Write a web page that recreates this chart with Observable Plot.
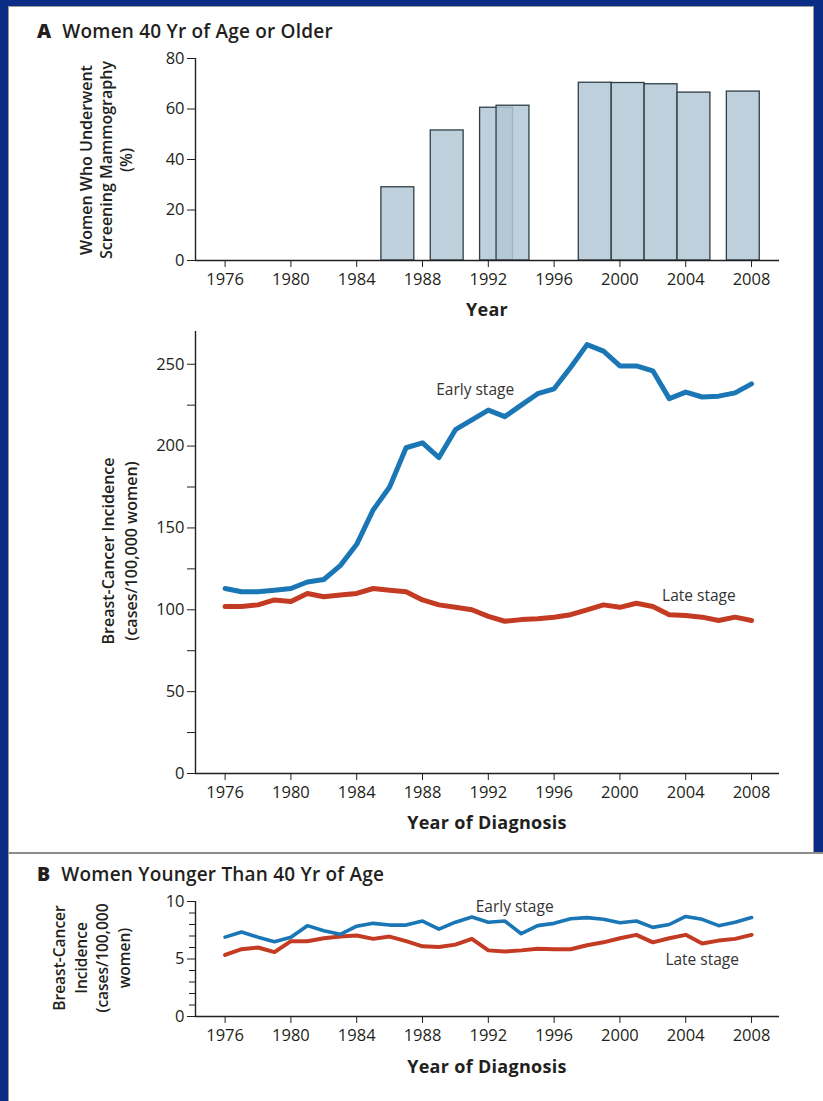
<!DOCTYPE html>
<html>
<head>
<meta charset="utf-8">
<script src="https://cdn.jsdelivr.net/npm/d3@7"></script>
<script src="https://cdn.jsdelivr.net/npm/@observablehq/plot@0.6"></script>
<style>
  html, body { margin: 0; padding: 0; }
  body { width: 823px; height: 1101px; overflow: hidden; position: relative; background: #0b2c85;
         font-family: "Open Sans", Lato, sans-serif; color: #231f20; }
  #boxA { position: absolute; left: 8px; top: 6px; width: 806px; height: 848px; background: #fff;
          border: 1px solid #9a9a9a; box-sizing: border-box; }
  #boxB { position: absolute; left: 8px; top: 852px; width: 815px; height: 249px; background: #fff;
          border-top: 2px solid #8c8c8c; border-left: 1px solid #9a9a9a; box-sizing: border-box; }
  .plot { position: absolute; left: 0; }
  .title { position: absolute; left: 37px; font-size: 19px; font-weight: 600; line-height: 22px; white-space: nowrap; letter-spacing: 0.2px; }
  .title b { font-weight: 800; margin-right: 11px; font-size: 19.5px; }
  .xlab { position: absolute; font-size: 18px; font-weight: 700; letter-spacing: 0.3px; transform: translate(-50%, -50%); white-space: nowrap; }
  .ylab { position: absolute; font-weight: 600; text-align: center; white-space: nowrap;
          transform: translate(-50%, -50%) rotate(-90deg); }
</style>
</head>
<body>
<div id="boxA"></div>
<div id="boxB"></div>
<div class="title" style="top:20px"><b>A</b>Women 40 Yr of Age or Older</div>
<div class="title" style="top:863px"><b>B</b>Women Younger Than 40 Yr of Age</div>
<div class="ylab" style="left:106px; top:160px; font-size:16px; line-height:20px">Women Who Underwent<br>Screening Mammography<br>(%)</div>
<div class="ylab" style="left:120px; top:551px; font-size:16px; line-height:23px">Breast-Cancer Incidence<br>(cases/100,000 women)</div>
<div class="ylab" style="left:92px; top:958px; font-size:15.5px; line-height:21.5px">Breast-Cancer<br>Incidence<br>(cases/100,000<br>women)</div>
<div class="xlab" style="left:487px; top:309px">Year</div>
<div class="xlab" style="left:487px; top:822px">Year of Diagnosis</div>
<div class="xlab" style="left:487px; top:1066px">Year of Diagnosis</div>
<div id="p1" class="plot" style="top:0px"></div>
<div id="p2" class="plot" style="top:320px"></div>
<div id="p3" class="plot" style="top:880px"></div>
<script>
// ---- Data ----
const years = [1976,1977,1978,1979,1980,1981,1982,1983,1984,1985,1986,1987,1988,1989,1990,1991,1992,
               1993,1994,1995,1996,1997,1998,1999,2000,2001,2002,2003,2004,2005,2006,2007,2008];
const tickYears = [1976,1980,1984,1988,1992,1996,2000,2004,2008];

// Panel A top: screening mammography (%), bars spanning two-year windows
const barStart = [1985.5,1988.5,1991.5,1992.5,1997.5,1999.5,2001.5,2003.5,2006.5];
const barEnd   = [1987.5,1990.5,1993.5,1994.5,1999.5,2001.5,2003.5,2005.5,2008.5];
const screenPct = [29,51.5,60.5,61.3,70.4,70.3,69.8,66.5,66.9];
const pctTicks = [0,20,40,60,80];

// Panel A bottom: incidence, women 40+ (cases/100,000)
const earlyOlder = [113,111,111,112,113,117,118.5,127,140,161,175,199,202,193,210,216,222,
                    218,225,232,235,248,262,258,249,249,246,229,233,230,230.5,232.5,238];
const lateOlder  = [102,102,103,106,105,110,108,109,110,113,112,111,106,103,101.5,100,96,
                    93,94,94.5,95.5,97,100,103,101.5,104,102,97,96.5,95.5,93.5,95.5,93.5];
const olderTicks = [0,50,100,150,200,250];
const olderMinor = [25,75,125,175,225];

// Panel B: incidence, women <40
const earlyYounger = [6.9,7.35,6.9,6.5,6.9,7.9,7.45,7.15,7.85,8.1,7.95,7.95,8.3,7.6,8.2,8.65,8.2,
                      8.3,7.2,7.9,8.1,8.5,8.6,8.45,8.15,8.3,7.75,8.0,8.7,8.45,7.9,8.2,8.6];
const lateYounger  = [5.35,5.85,6.0,5.6,6.55,6.55,6.8,6.95,7.05,6.75,6.95,6.55,6.1,6.05,6.25,6.75,5.75,
                      5.65,5.75,5.9,5.85,5.85,6.2,6.45,6.8,7.1,6.45,6.8,7.1,6.35,6.6,6.75,7.1];
const youngTicks = [0,5,10];
const youngMinor = [1,2,3,4,6,7,8,9];

const stageNames = ["Early stage", "Late stage"];

// ---- Rendering ----
const xDomain = [1974.2, 2009.7];
const ink = "#231f20";
const blue = "#1b76b6";
const red = "#c43b24";
const baseStyle = { background: "transparent", fontFamily: "'Open Sans', Lato, sans-serif",
                    fontSize: "16.5px", color: ink, overflow: "visible" };
const fmtYear = d => String(d);

const bars = barStart.map((s, i) => ({ start: s, end: barEnd[i], pct: screenPct[i] }));
const series = (vals) => vals.map((v, i) => ({ year: years[i], value: v }));

const frameX = () => Plot.axisX({ ticks: tickYears, tickFormat: fmtYear, tickSize: 7, tickPadding: 6, label: null, stroke: ink });

// Top chart
const p1 = Plot.plot({
  width: 823, height: 330, marginLeft: 195, marginRight: 44, marginTop: 58, marginBottom: 70,
  style: baseStyle,
  x: { domain: xDomain },
  y: { domain: [0, 80] },
  marks: [
    Plot.rect(bars, { x1: "start", x2: "end", y1: 0, y2: "pct", fill: "#b2c8d5", fillOpacity: 0.85,
                      stroke: "#2f3e47", strokeWidth: 1.3 }),
    Plot.ruleY([0], { stroke: ink, strokeWidth: 1.4 }),
    Plot.ruleX([xDomain[0]], { y1: 0, y2: 80, stroke: ink, strokeWidth: 1.4 }),
    frameX(),
    Plot.axisY({ ticks: pctTicks, tickSize: 8, tickPadding: 3, label: null, stroke: ink })
  ]
});
document.getElementById("p1").append(p1);

// Middle chart
const p2 = Plot.plot({
  width: 823, height: 500, marginLeft: 195, marginRight: 44, marginTop: 11, marginBottom: 47,
  style: baseStyle,
  x: { domain: xDomain },
  y: { domain: [0, 270] },
  marks: [
    Plot.ruleY([0], { stroke: ink, strokeWidth: 1.4 }),
    Plot.ruleX([xDomain[0]], { y1: 0, y2: 270, stroke: ink, strokeWidth: 1.4 }),
    frameX(),
    Plot.axisY({ ticks: olderTicks, tickSize: 8, tickPadding: 3, label: null, stroke: ink }),
    Plot.axisY({ ticks: olderMinor, tickSize: 8, tickFormat: () => "", label: null, stroke: ink }),
    Plot.line(series(lateOlder), { x: "year", y: "value", stroke: red, strokeWidth: 5, strokeLinejoin: "round", strokeLinecap: "round" }),
    Plot.line(series(earlyOlder), { x: "year", y: "value", stroke: blue, strokeWidth: 5, strokeLinejoin: "round", strokeLinecap: "round" }),
    Plot.text([stageNames[0]], { x: 1991.2, y: 234, text: d => d, fontSize: 15.5, fill: "#333" }),
    Plot.text([stageNames[1]], { x: 2004.8, y: 108.5, text: d => d, fontSize: 15.5, fill: "#333" })
  ]
});
document.getElementById("p2").append(p2);

// Bottom chart
const p3 = Plot.plot({
  width: 823, height: 180, marginLeft: 195, marginRight: 44, marginTop: 21, marginBottom: 44,
  style: baseStyle,
  x: { domain: xDomain },
  y: { domain: [0, 10] },
  marks: [
    Plot.ruleY([0], { stroke: ink, strokeWidth: 1.4 }),
    Plot.ruleX([xDomain[0]], { y1: 0, y2: 10, stroke: ink, strokeWidth: 1.4 }),
    frameX(),
    Plot.axisY({ ticks: youngTicks, tickSize: 8, tickPadding: 3, label: null, stroke: ink }),
    Plot.axisY({ ticks: youngMinor, tickSize: 6, tickFormat: () => "", label: null, stroke: ink }),
    Plot.line(series(lateYounger), { x: "year", y: "value", stroke: red, strokeWidth: 4, strokeLinejoin: "round", strokeLinecap: "round" }),
    Plot.line(series(earlyYounger), { x: "year", y: "value", stroke: blue, strokeWidth: 3.6, strokeLinejoin: "round", strokeLinecap: "round" }),
    Plot.text([stageNames[0]], { x: 1993.6, y: 9.5, text: d => d, fontSize: 15.5, fill: "#333" }),
    Plot.text([stageNames[1]], { x: 2005.0, y: 4.95, text: d => d, fontSize: 15.5, fill: "#333" })
  ]
});
document.getElementById("p3").append(p3);
</script>
</body>
</html>
